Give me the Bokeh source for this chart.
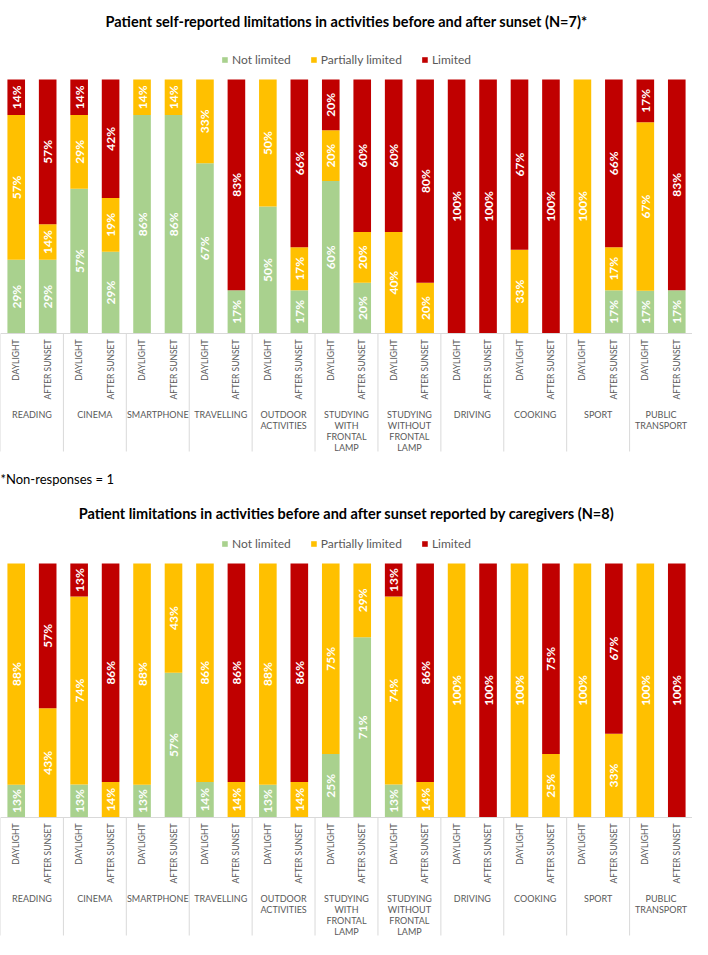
import math
from bokeh.plotting import figure
from bokeh.models import FactorRange, Range1d, ColumnDataSource, Legend, LegendItem, Label, Span, Spacer
from bokeh.layouts import column
from bokeh.embed import file_html
from bokeh.resources import INLINE
from bokeh.core.properties import value

# ---------------- data ----------------
activities = ["READING", "CINEMA", "SMARTPHONE", "TRAVELLING", "OUTDOOR ACTIVITIES",
              "STUDYING WITH FRONTAL LAMP", "STUDYING WITHOUT FRONTAL LAMP",
              "DRIVING", "COOKING", "SPORT", "PUBLIC TRANSPORT"]
group_labels = ["READING", "CINEMA", "SMARTPHONE", "TRAVELLING", "OUTDOOR\nACTIVITIES",
                "STUDYING\nWITH\nFRONTAL\nLAMP", "STUDYING\nWITHOUT\nFRONTAL\nLAMP",
                "DRIVING", "COOKING", "SPORT", "PUBLIC\nTRANSPORT"]
periods = ["DAYLIGHT", "AFTER SUNSET"]
series_names = ["Not limited", "Partially limited", "Limited"]

# Patient self-reported (N=7), order: daylight, after sunset per activity
pat_not = [29, 29, 57, 29, 86, 86, 67, 17, 50, 17, 60, 20, 0, 0, 0, 0, 0, 0, 0, 17, 17, 17]
pat_partial = [57, 14, 29, 19, 14, 14, 33, 0, 50, 17, 20, 20, 40, 20, 0, 0, 33, 0, 100, 17, 67, 0]
pat_limited = [14, 57, 14, 42, 0, 0, 0, 83, 0, 66, 20, 60, 60, 80, 100, 100, 67, 100, 0, 66, 17, 83]

# Reported by caregivers (N=8)
cg_not = [13, 0, 13, 0, 13, 57, 14, 0, 13, 0, 25, 71, 13, 0, 0, 0, 0, 0, 0, 0, 0, 0]
cg_partial = [88, 43, 74, 14, 88, 43, 86, 14, 88, 14, 75, 29, 74, 14, 100, 0, 100, 25, 100, 33, 100, 0]
cg_limited = [0, 57, 13, 86, 0, 0, 0, 86, 0, 86, 0, 0, 13, 86, 0, 100, 0, 75, 0, 67, 0, 100]

title1 = "Patient self-reported limitations in activities before and after sunset (N=7)*"
title2 = "Patient limitations in activities before and after sunset reported by caregivers (N=8)"
footnote = "*Non-responses = 1"

# ---------------- style ----------------
COLORS = ["#A9D18E", "#FFC000", "#C00000"]
FONT = "Lato"
GREY = "#595959"
SEP = "#D9D9D9"
W = 692
TH = 21            # title panel height (measured)
PX = 254.0         # pixels per 100 %

factors = [(a, p) for a in activities for p in periods]


def make_panel(title, nl, pl, li, page_top, axis_y, bottom, legend_y, note=None):
    frame_top = page_top + TH
    fh = bottom - frame_top
    y_top = (axis_y - frame_top) / PX
    y_bot = -(bottom - axis_y) / PX

    p = figure(x_range=FactorRange(*factors, factor_padding=0, group_padding=0, subgroup_padding=0,
                                   range_padding=0),
               y_range=Range1d(y_bot, y_top),
               frame_width=W, frame_height=int(fh), output_backend="svg", toolbar_location=None,
               min_border_left=0, min_border_right=0, min_border_bottom=0, min_border_top=0,
               title=title)
    p.title.align = "center"
    p.title.text_font = FONT
    p.title.text_font_size = "14.5px"
    p.title.text_font_style = "bold"
    p.title.text_color = "#000000"
    p.xaxis.visible = False
    p.yaxis.visible = False
    p.xgrid.visible = False
    p.ygrid.visible = False
    p.outline_line_color = None

    tot = [a + b + c for a, b, c in zip(nl, pl, li)]
    src = ColumnDataSource(dict(
        x=factors,
        n=[a / t for a, t in zip(nl, tot)],
        p=[b / t for b, t in zip(pl, tot)],
        l=[c / t for c, t in zip(li, tot)],
    ))
    rs = p.vbar_stack(["n", "p", "l"], x="x", width=0.56, color=COLORS, line_color=None, source=src)

    # value labels
    lx, ly, lt = [], [], []
    for i, f in enumerate(factors):
        base = 0.0
        for vals in (nl, pl, li):
            v = vals[i]
            h = v / tot[i]
            if v > 0:
                lx.append(f)
                ly.append(base + h / 2)
                lt.append(f"{v}%")
            base += h
    p.text(x=lx, y=ly, text=lt, angle=math.pi / 2, text_align="center", text_baseline="middle",
           text_color="white", text_font=value(FONT), text_font_style="bold", text_font_size="12px")

    # axis line & separators
    p.add_layout(Span(location=0, dimension="width", line_color=SEP, line_width=1))
    bounds = [2 * i for i in range(len(activities) + 1)]
    sep_len = -118 / PX
    p.segment(x0=bounds, y0=[0] * len(bounds), x1=bounds, y1=[sep_len] * len(bounds),
              line_color=SEP, line_width=1)

    # sub-category labels
    p.text(x=factors, y=[0] * len(factors), text=[f[1] for f in factors], angle=math.pi / 2,
           text_align="right", text_baseline="middle", y_offset=6, text_color=GREY,
           text_font=value(FONT), text_font_size="8.5px")
    # group labels
    p.text(x=activities, y=[0] * len(activities), text=group_labels, text_align="center",
           text_baseline="top", y_offset=75, text_color=GREY, text_font=value(FONT),
           text_font_size="9px", text_line_height=1.0)

    legend = Legend(items=[LegendItem(label=n, renderers=[r]) for n, r in zip(series_names, rs)],
                    orientation="horizontal", location="top_center",
                    glyph_width=7, glyph_height=7, label_standoff=4, spacing=19,
                    label_text_font=FONT, label_text_font_size="12px", label_text_color=GREY,
                    label_height=14, padding=0, margin=int(legend_y - frame_top - 7),
                    background_fill_alpha=0, border_line_color=None)
    p.add_layout(legend)

    if note:
        p.add_layout(Label(x=0, y=-(478 - axis_y) / PX, text=note, text_font=FONT,
                           text_font_size="13px", text_color="#000000", text_baseline="middle"))
    return p


p1 = make_panel(title1, pat_not, pat_partial, pat_limited, page_top=13, axis_y=333,
                bottom=497, legend_y=59, note=footnote)
p2 = make_panel(title2, cg_not, cg_partial, cg_limited, page_top=505, axis_y=817,
                bottom=940, legend_y=543)

layout = column(Spacer(height=5), p1, p2, spacing=0)
open("out.html", "w").write(file_html(layout, INLINE))
